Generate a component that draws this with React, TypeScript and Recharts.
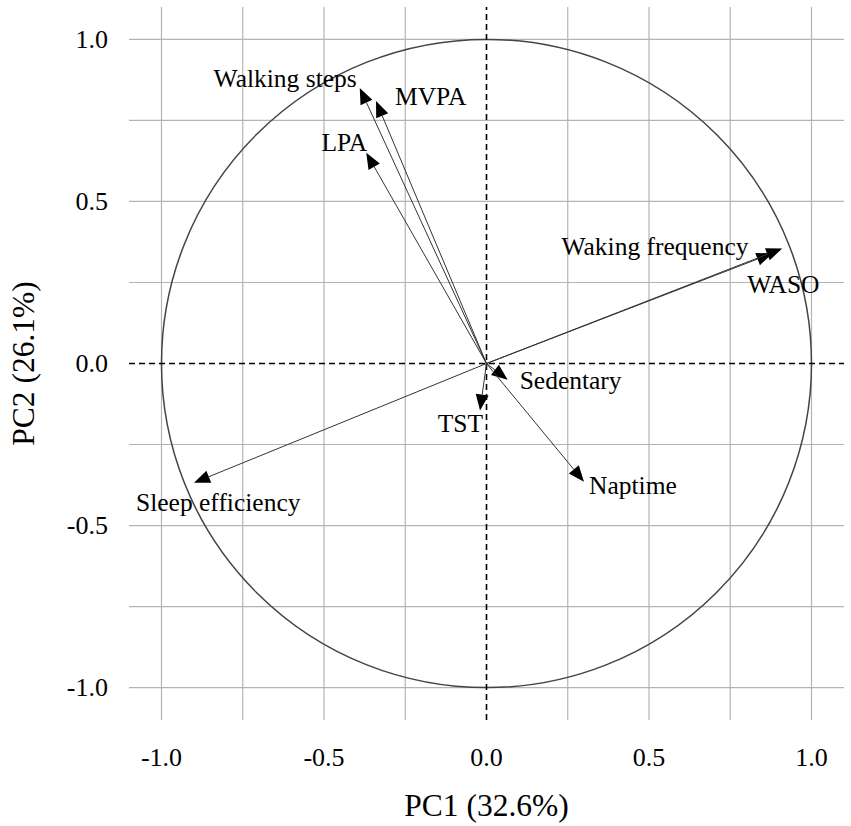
import { ScatterChart, Scatter, XAxis, YAxis, CartesianGrid, ReferenceLine, ReferenceArea, Label } from 'recharts';

// PCA loadings
const VARIABLES = [
  'Walking steps', 'MVPA', 'LPA', 'Waking frequency', 'WASO',
  'Sedentary', 'TST', 'Naptime', 'Sleep efficiency',
];
const PC1_LOADINGS = [-0.39, -0.34, -0.37, 0.88, 0.91, 0.065, -0.02, 0.3, -0.9];
const PC2_LOADINGS = [0.85, 0.81, 0.65, 0.34, 0.355, -0.05, -0.145, -0.365, -0.368];

const AXIS_TICKS = [-1, -0.5, 0, 0.5, 1];
const GRID_VALUES = [-1, -0.75, -0.5, -0.25, 0.25, 0.5, 0.75, 1];

const FONT = '"Liberation Serif", "Times New Roman", serif';

// where each name sits relative to its arrow tip (px)
const LABEL_PLACEMENT: Record<string, { dx: number; dy: number; anchor: 'start' | 'end' }> = {
  'Walking steps': { dx: -3, dy: -10, anchor: 'end' },
  MVPA: { dx: 19, dy: -4, anchor: 'start' },
  LPA: { dx: 1, dy: -10, anchor: 'end' },
  'Waking frequency': { dx: -24, dy: -7, anchor: 'end' },
  WASO: { dx: -35, dy: 36, anchor: 'start' },
  Sedentary: { dx: 12, dy: 1, anchor: 'start' },
  TST: { dx: 3, dy: 13, anchor: 'end' },
  Naptime: { dx: 5, dy: 4, anchor: 'start' },
  'Sleep efficiency': { dx: -58, dy: 20, anchor: 'start' },
};

const loadings = VARIABLES.map((name, i) => ({ name, x: PC1_LOADINGS[i], y: PC2_LOADINGS[i] }));

function Arrow(props: any) {
  const { x1, y1, x2, y2 } = props;
  const len = Math.hypot(x2 - x1, y2 - y1) || 1;
  const ux = (x2 - x1) / len;
  const uy = (y2 - y1) / len;
  const head = 16;
  const half = 6.5;
  const bx = x2 - ux * head;
  const by = y2 - uy * head;
  return (
    <g>
      <line x1={x1} y1={y1} x2={bx} y2={by} stroke="#333" strokeWidth={1} />
      <polygon
        points={`${x2},${y2} ${bx - uy * half},${by + ux * half} ${bx + uy * half},${by - ux * half}`}
        fill="#000"
      />
    </g>
  );
}

function UnitCircle(props: any) {
  const { x, y, width, height } = props;
  return (
    <ellipse
      cx={x + width / 2}
      cy={y + height / 2}
      rx={width / 2}
      ry={height / 2}
      fill="none"
      stroke="#444"
      strokeWidth={1.5}
    />
  );
}

function NameLabel(props: any) {
  const { cx, cy, payload } = props;
  const p = LABEL_PLACEMENT[payload.name];
  return (
    <text
      x={cx + p.dx}
      y={cy + p.dy}
      textAnchor={p.anchor}
      dominantBaseline="central"
      fontFamily={FONT}
      fontSize={25.5}
      fill="#000"
    >
      {payload.name}
    </text>
  );
}

const XTick = ({ x, y, payload }: any) => (
  <text x={x} y={y} textAnchor="middle" dominantBaseline="central" fontFamily={FONT} fontSize={26} fill="#000">
    {Number(payload.value).toFixed(1)}
  </text>
);

const YTick = ({ x, y, payload }: any) => (
  <text x={x} y={y} textAnchor="end" dominantBaseline="central" fontFamily={FONT} fontSize={26} fill="#000">
    {Number(payload.value).toFixed(1)}
  </text>
);

const XTitle = ({ viewBox }: any) => (
  <text
    x={viewBox.x + viewBox.width / 2}
    y={viewBox.y + 85}
    textAnchor="middle"
    dominantBaseline="central"
    fontFamily={FONT}
    fontSize={31.5}
    fill="#000"
  >
    PC1 (32.6%)
  </text>
);

const YTitle = ({ viewBox }: any) => {
  const cx = viewBox.x + 23;
  const cy = viewBox.y + viewBox.height / 2;
  return (
    <text
      x={cx}
      y={cy}
      transform={`rotate(-90 ${cx} ${cy})`}
      textAnchor="middle"
      dominantBaseline="central"
      fontFamily={FONT}
      fontSize={31.5}
      fill="#000"
    >
      PC2 (26.1%)
    </text>
  );
};

export default function App() {
  return (
    <div style={{ position: 'absolute', left: 0, top: 0, background: '#fff' }}>
      <ScatterChart width={851} height={826} margin={{ top: 7, right: 7, bottom: 0, left: 0 }}>
        <CartesianGrid
          stroke="#b4b4b4"
          strokeWidth={1.2}
          horizontalValues={GRID_VALUES}
          verticalValues={GRID_VALUES}
        />
        <XAxis
          type="number"
          dataKey="x"
          domain={[-1.1, 1.1]}
          ticks={AXIS_TICKS}
          allowDataOverflow
          height={106}
          axisLine={false}
          tickLine={false}
          tickSize={0}
          tickMargin={37}
          tick={<XTick />}
          label={<Label content={XTitle} />}
        />
        <YAxis
          type="number"
          dataKey="y"
          domain={[-1.1, 1.1]}
          ticks={AXIS_TICKS}
          allowDataOverflow
          width={129}
          axisLine={false}
          tickLine={false}
          tickSize={0}
          tickMargin={21}
          tick={<YTick />}
          label={<Label content={YTitle} />}
        />
        <ReferenceLine x={0} stroke="#000" strokeWidth={1.6} strokeDasharray="6 4" />
        <ReferenceLine y={0} stroke="#000" strokeWidth={1.6} strokeDasharray="6 4" />
        <ReferenceArea x1={-1} x2={1} y1={-1} y2={1} shape={<UnitCircle />} />
        {loadings.map((d) => (
          <ReferenceLine
            key={d.name}
            segment={[{ x: 0, y: 0 }, { x: d.x, y: d.y }]}
            shape={<Arrow />}
          />
        ))}
        <Scatter data={loadings} shape={<NameLabel />} isAnimationActive={false} />
      </ScatterChart>
    </div>
  );
}
